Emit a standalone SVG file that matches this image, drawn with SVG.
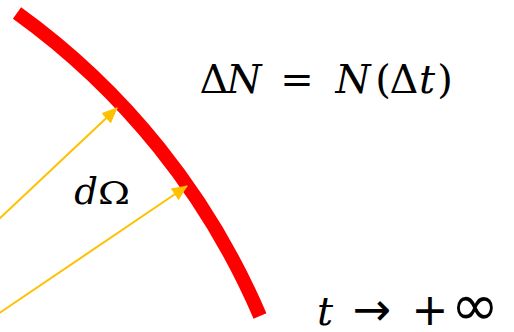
<svg xmlns="http://www.w3.org/2000/svg" width="514" height="332" viewBox="0 0 514 332">
<style>
.m{font-family:"DejaVu Serif","Liberation Serif",serif;fill:#000;text-anchor:middle}
.s{font-family:"DejaVu Sans","Liberation Sans",sans-serif;fill:#000;text-anchor:middle}
.i{font-style:italic}
.ray{stroke:#FFC000;stroke-width:2;fill:none}
</style>
<defs>
<marker id="ah" markerWidth="8" markerHeight="7" refX="7.5" refY="3.5" orient="auto" markerUnits="strokeWidth">
<path d="M0,0 L8,3.5 L0,7 Z" fill="#FFC000"/>
</marker>
</defs>
<rect width="514" height="332" fill="#fff"/>
<g id="surface">
<path d="M17,13 A725,725 0 0 1 260,316" stroke="#FF0000" stroke-width="14" fill="none"/>
</g>
<g id="connectors">
<line class="ray" x1="-2" y1="220" x2="117" y2="108" marker-end="url(#ah)"/>
<line class="ray" x1="-2" y1="314" x2="187" y2="186" marker-end="url(#ah)"/>
</g>
<g id="label-dN" font-size="40">
<text class="m" x="214" y="93">Δ</text>
<text class="m i" x="244" y="93">N</text>
<text class="m" x="297" y="93">=</text>
<text class="m i" x="353" y="93">N</text>
<text class="m" x="383" y="93">(</text>
<text class="m" x="404" y="93">Δ</text>
<text class="m i" x="427" y="93">t</text>
<text class="m" x="445" y="93">)</text>
</g>
<g id="label-dOmega">
<text class="m i" x="86" y="204" font-size="37">d</text>
<text class="m" x="114" y="204" font-size="31" textLength="32" lengthAdjust="spacingAndGlyphs">Ω</text>
</g>
<g id="label-t">
<text class="m i" x="325" y="325" font-size="40">t</text>
<text class="s" x="372" y="325" font-size="46">→</text>
<text class="s" x="430" y="325" font-size="44">+</text>
<text class="s" x="475" y="325" font-size="58">∞</text>
</g>
</svg>
